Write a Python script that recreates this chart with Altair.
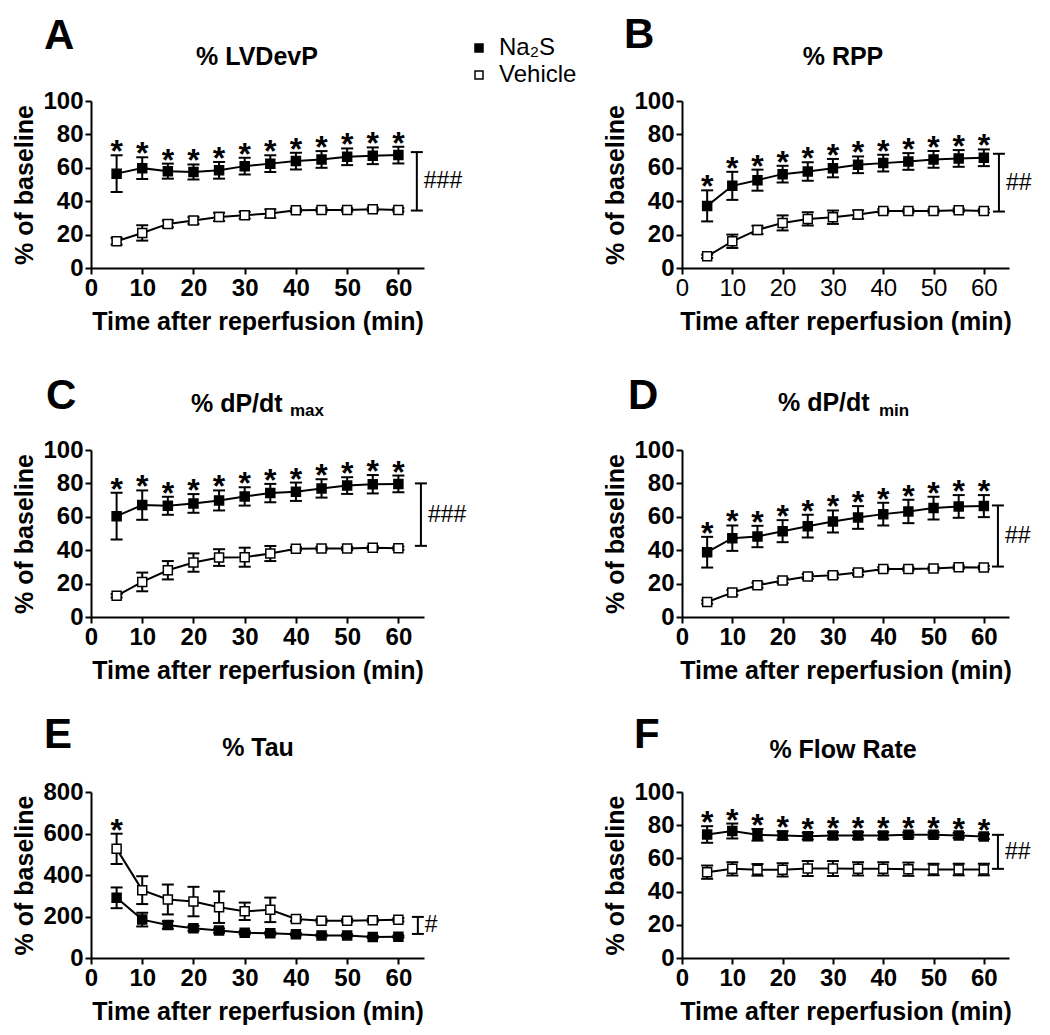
import altair as alt
import pandas as pd

FONT = "Liberation Sans"
G_NA = "Na₂S"
G_VEH = "Vehicle"
T = [5, 10, 15, 20, 25, 30, 35, 40, 45, 50, 55, 60]
X_TICKS = [0, 10, 20, 30, 40, 50, 60]
Y_TICKS_100 = [0, 20, 40, 60, 80, 100]
Y_TICKS_800 = [0, 200, 400, 600, 800]

# ---- A: % LVDevP
A_na = [56.5, 59.8, 58.0, 57.5, 58.5, 61.0, 62.5, 64.0, 65.0, 66.6, 67.2, 67.6]
A_na_err = [11, 6.5, 4.5, 4.5, 5, 5, 5, 5, 5, 5, 5, 5]
A_veh = [16.0, 21.0, 26.4, 28.4, 30.6, 31.6, 32.6, 34.6, 34.8, 34.8, 35.2, 34.8]
A_veh_err = [2, 4.6, 2, 2, 2.5, 2, 2.5, 1, 1, 1, 1, 1]
A_star_t = [5, 10, 15, 20, 25, 30, 35, 40, 45, 50, 55, 60]
A_bracket = [63.6, 34.4, 69.4]
A_label = "###"

# ---- B: % RPP
B_na = [37.2, 49.2, 52.6, 56.2, 57.8, 59.8, 61.8, 62.8, 63.8, 65.0, 65.6, 66.0]
B_na_err = [9.3, 8.4, 6.3, 5, 5.5, 5.5, 5, 5, 5, 5, 5, 5]
B_veh = [7.0, 16.0, 22.8, 27.0, 29.4, 30.4, 32.0, 34.2, 34.2, 34.2, 34.6, 34.2]
B_veh_err = [1, 4, 2.5, 4.5, 4, 4, 2.5, 1, 1, 1, 1, 1]
B_star_t = [5, 10, 15, 20, 25, 30, 35, 40, 45, 50, 55, 60]
B_bracket = [63.0, 33.8, 68.4]
B_label = "##"

# ---- C: % dP/dt max
C_na = [60.4, 67.0, 66.6, 68.0, 69.8, 72.2, 74.2, 75.0, 77.0, 78.7, 79.5, 79.7]
C_na_err = [14, 8.8, 5.4, 5.6, 6, 5.5, 5.5, 5.5, 5.5, 5, 5.5, 5]
C_veh = [12.7, 21.0, 28.0, 32.6, 35.6, 35.8, 38.0, 40.8, 41.0, 41.0, 41.4, 41.2]
C_veh_err = [1, 5.6, 5.5, 5.5, 5, 5.7, 4.5, 1, 1, 1, 1, 1]
C_star_t = [5, 10, 15, 20, 25, 30, 35, 40, 45, 50, 55, 60]
C_bracket = [64.4, 42.6, 80.0]
C_label = "###"

# ---- D: % dP/dt min
D_na = [38.8, 47.2, 48.2, 51.4, 54.4, 57.2, 59.6, 61.6, 63.2, 65.2, 66.2, 66.4]
D_na_err = [9.2, 7.6, 6.4, 6.6, 6.8, 6.6, 6.8, 6.8, 7, 6.8, 6.8, 6.6]
D_veh = [9.0, 14.6, 19.0, 21.8, 24.2, 25.0, 26.6, 28.8, 28.8, 29.0, 29.8, 29.6]
D_veh_err = [1, 1.5, 1.5, 1.5, 1.5, 1.5, 1.5, 1, 1, 1, 1, 1]
D_star_t = [5, 10, 15, 20, 25, 30, 35, 40, 45, 50, 55, 60]
D_bracket = [62.8, 30.2, 66.8]
D_label = "##"

# ---- E: % Tau
E_na = [290, 185, 159, 143, 132, 122, 119, 114, 109, 109, 101, 103]
E_na_err = [50, 33, 18, 12, 10, 8, 6, 5, 5, 5, 5, 5]
E_veh = [526, 327, 282, 272, 245, 225, 232, 188, 180, 180, 182, 184]
E_veh_err = [73, 67, 72, 71, 76, 42, 59, 10, 8, 8, 8, 8]
E_star_t = [5]
E_bracket = [63.8, 116, 198]
E_label = "#"

# ---- F: % Flow Rate
F_na = [74.4, 76.5, 74.2, 73.8, 73.4, 73.8, 73.8, 73.8, 74.2, 74.2, 73.8, 73.2]
F_na_err = [5, 4.5, 3.5, 2.5, 2, 2, 2, 2, 1.5, 1.5, 1.5, 1.5]
F_veh = [51.7, 53.7, 53.1, 53.1, 53.9, 53.9, 53.7, 53.7, 53.5, 53.3, 53.3, 53.3]
F_veh_err = [4, 4, 3.5, 4, 4.5, 4.5, 4, 4, 4, 3.5, 3.5, 3.5]
F_star_t = [5, 10, 15, 20, 25, 30, 35, 40, 45, 50, 55, 60]
F_bracket = [62.8, 53.7, 74.2]
F_label = "##"

PANELS = [
    dict(key="A", title="% LVDevP", sub=None, na=A_na, nae=A_na_err, veh=A_veh, vehe=A_veh_err,
         star_t=A_star_t, star_g=G_NA, br=A_bracket, lab=A_label, ymax=100, yt=Y_TICKS_100),
    dict(key="B", title="% RPP", sub=None, na=B_na, nae=B_na_err, veh=B_veh, vehe=B_veh_err,
         star_t=B_star_t, star_g=G_NA, br=B_bracket, lab=B_label, ymax=100, yt=Y_TICKS_100),
    dict(key="C", title="% dP/dt", sub="max", na=C_na, nae=C_na_err, veh=C_veh, vehe=C_veh_err,
         star_t=C_star_t, star_g=G_NA, br=C_bracket, lab=C_label, ymax=100, yt=Y_TICKS_100),
    dict(key="D", title="% dP/dt", sub="min", na=D_na, nae=D_na_err, veh=D_veh, vehe=D_veh_err,
         star_t=D_star_t, star_g=G_NA, br=D_bracket, lab=D_label, ymax=100, yt=Y_TICKS_100),
    dict(key="E", title="% Tau", sub=None, na=E_na, nae=E_na_err, veh=E_veh, vehe=E_veh_err,
         star_t=E_star_t, star_g=G_VEH, br=E_bracket, lab=E_label, ymax=800, yt=Y_TICKS_800),
    dict(key="F", title="% Flow Rate", sub=None, na=F_na, nae=F_na_err, veh=F_veh, vehe=F_veh_err,
         star_t=F_star_t, star_g=G_NA, br=F_bracket, lab=F_label, ymax=100, yt=Y_TICKS_100),
]

# layout / styling (pixels relative to each panel's plot area)
LAY = {
    "A": dict(w=333, h=167, top=0, letter=(-47, -52), title=(166, -36), legend=True),
    "B": dict(w=327, h=167, top=0, letter=(-58, -53), title=(161, -36), xlw="normal"),
    "C": dict(w=333, h=174, top=7, letter=(-45, -41), title=(100, -38), sub=(199, -34)),
    "D": dict(w=327, h=174, top=7, letter=(-54, -41), title=(96, -39), sub=(197, -34)),
    "E": dict(w=333, h=166, top=0, letter=(-47, -44), title=(167, -36)),
    "F": dict(w=327, h=166, top=0, letter=(-48, -44), title=(161, -34)),
}


def make_panel(p):
    lay = LAY[p["key"]]
    W, H, top = lay["w"], lay["h"], lay["top"]
    rows = []
    for g, m, e in [(G_NA, p["na"], p["nae"]), (G_VEH, p["veh"], p["vehe"])]:
        for t, mm, ee in zip(T, m, e):
            rows.append(dict(t=t, group=g, mean=mm, lo=mm - ee, hi=mm + ee))
    df = pd.DataFrame(rows)
    caps = pd.concat([
        df[["t", "lo"]].rename(columns={"lo": "v"}),
        df[["t", "hi"]].rename(columns={"hi": "v"}),
    ])
    stars = df[(df["group"] == p["star_g"]) & (df["t"].isin(p["star_t"]))][["t", "hi"]]
    bx, blo, bhi = p["br"]
    br = pd.DataFrame([dict(bx=bx, blo=blo, bhi=bhi, bmid=(blo + bhi) / 2, lab=p["lab"])])
    brcaps = pd.DataFrame([dict(bx=bx, v=blo), dict(bx=bx, v=bhi)])

    xs = alt.Scale(domain=[0, 65], nice=False, zero=False)
    ys = alt.Scale(domain=[0, p["ymax"]], nice=False, range=[H, top])
    xax = alt.Axis(values=X_TICKS, title="Time after reperfusion (min)",
                   labelFontWeight=lay.get("xlw", "bold"))
    yax = alt.Axis(values=p["yt"], title="% of baseline")

    def X(f):
        return alt.X(f + ":Q", scale=xs, axis=xax)

    def Y(f):
        return alt.Y(f + ":Q", scale=ys, axis=yax)

    base = alt.Chart(df)
    lines = base.mark_line(color="black", strokeWidth=2).encode(
        x=X("t"), y=Y("mean"), detail="group:N")
    ebars = base.mark_rule(color="black", strokeWidth=2).encode(
        x=X("t"), y=Y("lo"), y2="hi:Q")
    ecaps = alt.Chart(caps).mark_tick(orient="horizontal", size=12, thickness=2,
                                      color="black", opacity=1).encode(x=X("t"), y=Y("v"))
    if lay.get("legend"):
        leg = alt.Legend(orient="none", legendX=376, legendY=-65, title=None,
                         symbolType="square", symbolSize=64, symbolStrokeColor="black",
                         symbolStrokeWidth=1.5, labelFont=FONT, labelFontSize=24,
                         labelFontWeight="normal", labelColor="black", labelOffset=8,
                         rowPadding=3, padding=0)
    else:
        leg = None
    pts = base.mark_point(shape="square", filled=True, size=81, stroke="black",
                          strokeWidth=1.5, opacity=1).encode(
        x=X("t"), y=Y("mean"),
        fill=alt.Fill("group:N", scale=alt.Scale(domain=[G_NA, G_VEH], range=["black", "white"]),
                      legend=leg))
    star = alt.Chart(stars).mark_text(text="*", font=FONT, fontSize=32, fontWeight="bold",
                                      baseline="alphabetic", dy=7, color="black").encode(
        x=X("t"), y=Y("hi"))
    brule = alt.Chart(br).mark_rule(color="black", strokeWidth=2).encode(
        x=X("bx"), y=Y("blo"), y2="bhi:Q")
    bcaps = alt.Chart(brcaps).mark_tick(orient="horizontal", size=12, thickness=2,
                                        color="black", opacity=1).encode(x=X("bx"), y=Y("v"))
    btext = alt.Chart(br).mark_text(align="left", baseline="middle", dx=7, font=FONT,
                                    fontSize=23, color="black").encode(
        x=X("bx"), y=Y("bmid"), text="lab:N")

    lx, ly = lay["letter"]
    letter = alt.Chart(pd.DataFrame({"s": [p["key"]]})).mark_text(
        align="left", baseline="alphabetic", font=FONT, fontSize=42, fontWeight="bold",
        color="black").encode(text="s:N", x=alt.value(lx), y=alt.value(ly + top))
    tx, ty = lay["title"]
    if p["sub"] is None:
        title = alt.Chart(pd.DataFrame({"s": [p["title"]]})).mark_text(
            align="center", baseline="alphabetic", font=FONT, fontSize=25, fontWeight="bold",
            color="black").encode(text="s:N", x=alt.value(tx), y=alt.value(ty + top))
        extra = [title]
    else:
        title = alt.Chart(pd.DataFrame({"s": [p["title"]]})).mark_text(
            align="left", baseline="alphabetic", font=FONT, fontSize=25, fontWeight="bold",
            color="black").encode(text="s:N", x=alt.value(tx), y=alt.value(ty + top))
        sx, sy = lay["sub"]
        sub = alt.Chart(pd.DataFrame({"s": [p["sub"]]})).mark_text(
            align="left", baseline="alphabetic", font=FONT, fontSize=17, fontWeight="bold",
            color="black").encode(text="s:N", x=alt.value(sx), y=alt.value(sy + top))
        extra = [title, sub]

    return alt.layer(lines, ebars, ecaps, pts, star, brule, bcaps, btext, letter, *extra).properties(
        width=W, height=H)


charts = [make_panel(p) for p in PANELS]

chart = alt.concat(
    *charts, columns=2, spacing={"row": 175, "column": 258}, bounds="flush", align="each"
).resolve_scale(fill="independent").properties(
    padding={"left": 4, "top": 6, "right": 5, "bottom": 5}
).configure_view(stroke=None).configure_axis(
    domainColor="black", domainWidth=2, tickColor="black", tickWidth=2, tickSize=6,
    labelFont=FONT, labelFontSize=24, labelFontWeight="bold", labelColor="black",
    labelPadding=2, labelFlush=False, labelOverlap=False,
    titleFont=FONT, titleFontSize=25, titleFontWeight="bold", titleColor="black",
    grid=False,
).configure_axisX(titlePadding=9).configure_axisY(titlePadding=5)

chart.save("out.html", embed_options={"renderer": "svg", "actions": False})
